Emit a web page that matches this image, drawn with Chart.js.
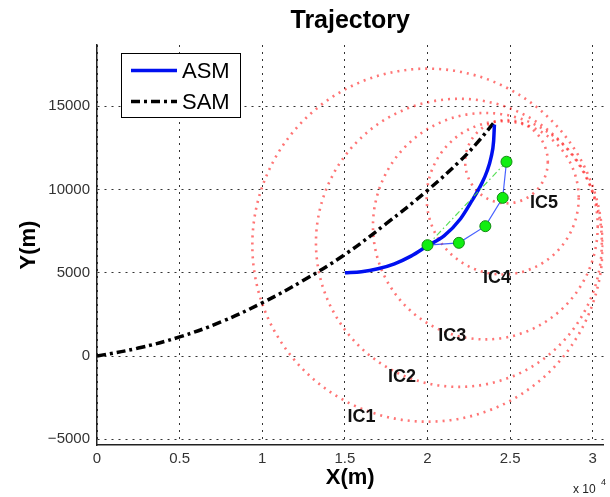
<!DOCTYPE html>
<html>
<head>
<meta charset="utf-8">
<script src="https://cdn.jsdelivr.net/npm/chart.js@4.4.1/dist/chart.umd.min.js"></script>
<style>
  html, body { margin: 0; padding: 0; background: #fff; }
</style>
</head>
<body>
<canvas id="chart" width="610" height="497"></canvas>
<script>
    // ASM trajectory (blue solid)
    const asmX = [15000, 16000, 17000, 18000, 19000, 20000, 21000, 22000, 22700, 23300, 23600, 23850, 24000, 24050];
    const asmY = [5000, 5060, 5240, 5540, 6000, 6620, 7220, 8250, 9350, 10400, 11100, 11950, 12900, 13900];

    // SAM trajectory (black dash-dot)
    const samX = [0, 2500, 5000, 7500, 10000, 12500, 15000, 17500, 20000, 22000, 23000, 24000];
    const samY = [0, 480, 1150, 2050, 3200, 4550, 6100, 7950, 9950, 11750, 12800, 14000];

    // intercept points IC1..IC5 and their circles
    const icNames = ['IC1', 'IC2', 'IC3', 'IC4', 'IC5'];
    const icX = [20000, 21900, 23500, 24550, 24780];
    const icY = [6660, 6800, 7800, 9500, 11670];
    const icR = [10600, 8650, 6800, 4600, 2500];
    const icLabelX = [16000, 18450, 21500, 24200, 27050];
    const icLabelY = [-3640, -1240, 1220, 4660, 9200];

    // axes
    const xTicks = [0, 5000, 10000, 15000, 20000, 25000, 30000];
    const xTickLabels = ['0', '0.5', '1', '1.5', '2', '2.5', '3'];
    const yTicks = [-5000, 0, 5000, 10000, 15000];
    const yTickLabels = ['\u22125000', '0', '5000', '10000', '15000'];

    const FONT = "'Liberation Sans', Arial, Helvetica, sans-serif";

    const toPoints = (xs, ys) => xs.map((v, i) => ({ x: v, y: ys[i] }));

    // red dotted circles + IC labels
    const circlePlugin = {
      id: 'icCircles',
      beforeDatasetsDraw(chart) {
        const { ctx, chartArea, scales: { x, y } } = chart;
        ctx.save();
        ctx.beginPath();
        ctx.rect(chartArea.left, chartArea.top, chartArea.right - chartArea.left, chartArea.bottom - chartArea.top);
        ctx.clip();
        ctx.strokeStyle = 'rgba(255,25,25,0.6)';
        ctx.lineWidth = 2.6;
        ctx.setLineDash([2, 5]);
        icX.forEach((cx, i) => {
          const px = x.getPixelForValue(cx);
          const py = y.getPixelForValue(icY[i]);
          const rx = x.getPixelForValue(cx + icR[i]) - px;
          const ry = py - y.getPixelForValue(icY[i] + icR[i]);
          ctx.beginPath();
          ctx.ellipse(px, py, rx, ry, 0, 0, Math.PI * 2);
          ctx.stroke();
        });
        ctx.restore();
      },
      afterDatasetsDraw(chart) {
        const { ctx, scales: { x, y } } = chart;
        ctx.save();
        ctx.fillStyle = '#111';
        ctx.font = 'bold 18px ' + FONT;
        ctx.textAlign = 'center';
        ctx.textBaseline = 'middle';
        icNames.forEach((name, i) => {
          ctx.fillText(name, x.getPixelForValue(icLabelX[i]), y.getPixelForValue(icLabelY[i]));
        });
        ctx.restore();
      }
    };

    // boxed legend inside the axes + the x10^4 exponent
    const legendPlugin = {
      id: 'boxLegend',
      afterDraw(chart) {
        const ctx = chart.ctx;
        const items = chart.data.datasets.filter(d => d.inLegend);
        ctx.save();
        ctx.fillStyle = '#fff';
        ctx.fillRect(121, 53, 120, 65);
        ctx.strokeStyle = '#000';
        ctx.lineWidth = 1;
        ctx.strokeRect(121.5, 53.5, 119, 64);
        items.forEach((d, i) => {
          const yy = 70.5 + i * 31;
          ctx.strokeStyle = d.borderColor;
          ctx.lineWidth = d.borderWidth;
          ctx.setLineDash(d.borderDash || []);
          ctx.beginPath();
          ctx.moveTo(131, yy);
          ctx.lineTo(177, yy);
          ctx.stroke();
          ctx.setLineDash([]);
          ctx.fillStyle = '#000';
          ctx.font = '22px ' + FONT;
          ctx.textBaseline = 'middle';
          ctx.fillText(d.label, 182, yy + 1);
        });
        ctx.fillStyle = '#222';
        ctx.font = '12px ' + FONT;
        ctx.textBaseline = 'alphabetic';
        ctx.fillText('x 10', 573, 493);
        ctx.font = '9px ' + FONT;
        ctx.fillText('4', 601, 485);
        ctx.restore();
      }
    };

    const ctx = document.getElementById('chart').getContext('2d');
    new Chart(ctx, {
      type: 'scatter',
      data: {
        datasets: [
          {
            label: 'intercepts',
            data: toPoints(icX, icY),
            showLine: false,
            pointRadius: 5.5,
            pointBackgroundColor: '#11ee11',
            pointBorderColor: '#138a13',
            pointBorderWidth: 1
          },
          {
            label: 'IC path',
            data: toPoints(icX, icY),
            showLine: true,
            pointRadius: 0,
            borderColor: 'rgba(40,70,255,0.85)',
            borderWidth: 1.2
          },
          {
            label: 'IC chord',
            data: [{ x: icX[0], y: icY[0] }, { x: icX[4], y: icY[4] }],
            showLine: true,
            pointRadius: 0,
            borderColor: 'rgba(70,220,70,0.9)',
            borderWidth: 1.2,
            borderDash: [6, 3, 1.5, 3]
          },
          {
            label: 'ASM',
            inLegend: true,
            data: toPoints(asmX, asmY),
            showLine: true,
            pointRadius: 0,
            borderColor: '#0010f0',
            borderWidth: 3.5,
            tension: 0.4,
            cubicInterpolationMode: 'monotone'
          },
          {
            label: 'SAM',
            inLegend: true,
            data: toPoints(samX, samY),
            showLine: true,
            pointRadius: 0,
            borderColor: '#000',
            borderWidth: 3.5,
            borderDash: [9, 4, 3, 4],
            tension: 0.4
          }
        ]
      },
      options: {
        responsive: false,
        animation: false,
        devicePixelRatio: 1,
        layout: { padding: 0 },
        plugins: {
          legend: { display: false },
          tooltip: { enabled: false },
          title: {
            display: true,
            text: 'Trajectory',
            fullSize: false,
            color: '#000',
            font: { family: FONT, size: 25, weight: 'bold' },
            padding: { top: 6, bottom: 9 }
          }
        },
        scales: {
          x: {
            type: 'linear',
            min: 0,
            max: 30650,
            afterBuildTicks: s => { s.ticks = xTicks.map(v => ({ value: v })); },
            afterFit: s => { s.height = 52; s.paddingLeft = 0; s.paddingRight = 0; },
            ticks: {
              callback: (v, i) => xTickLabels[i],
              color: '#333',
              font: { family: FONT, size: 15 },
              padding: 5,
              maxRotation: 0,
              autoSkip: false
            },
            grid: { color: 'rgba(0,0,0,0.8)', lineWidth: 1, drawTicks: false },
            border: { display: true, color: '#222', width: 1.5, dash: [2, 5] },
            title: {
              display: true,
              text: 'X(m)',
              color: '#000',
              font: { family: FONT, size: 22, weight: 'bold' },
              padding: { top: 0, bottom: 6 }
            }
          },
          y: {
            type: 'linear',
            min: -5340,
            max: 18680,
            afterBuildTicks: s => { s.ticks = yTicks.map(v => ({ value: v })); },
            afterFit: s => { s.width = 97; s.paddingTop = 0; s.paddingBottom = 0; },
            ticks: {
              callback: (v, i) => yTickLabels[i],
              color: '#333',
              font: { family: FONT, size: 15 },
              padding: 7,
              autoSkip: false
            },
            grid: { color: 'rgba(0,0,0,0.8)', lineWidth: 1, drawTicks: false },
            border: { display: true, color: '#222', width: 1.5, dash: [2, 5] },
            title: {
              display: true,
              text: 'Y(m)',
              color: '#000',
              font: { family: FONT, size: 22, weight: 'bold' },
              padding: { top: 16, bottom: 0 }
            }
          }
        }
      },
      plugins: [circlePlugin, legendPlugin]
    });
</script>
</body>
</html>
